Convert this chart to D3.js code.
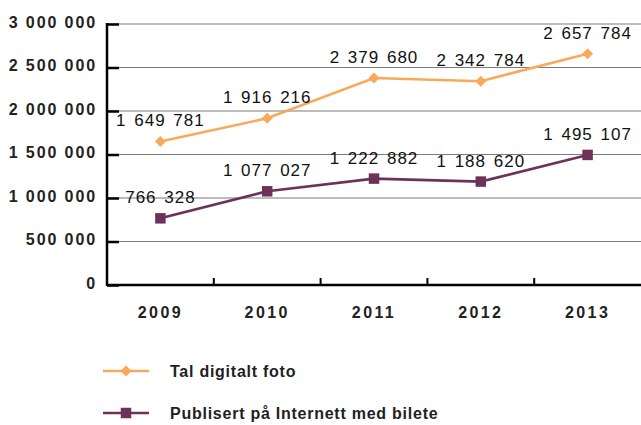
<!DOCTYPE html>
<html>
<head>
<meta charset="utf-8">
<script src="https://cdn.jsdelivr.net/npm/d3@7"></script>
<style>
  body { margin: 0; background: #fff; }
  svg text { font-family: "Liberation Sans", Arial, sans-serif; }
</style>
</head>
<body>
<svg id="chart"></svg>
<script>
// data
const years = ["2009", "2010", "2011", "2012", "2013"];
const digitalFoto = [1649781, 1916216, 2379680, 2342784, 2657784];
const publisert = [766328, 1077027, 1222882, 1188620, 1495107];
const seriesNames = ["Tal digitalt foto", "Publisert på Internett med bilete"];
const yTicks = [0, 500000, 1000000, 1500000, 2000000, 2500000, 3000000];

const width = 641, height = 425;
const margin = {top: 24, left: 107};
const zeroY = 285;
const orange = "#f9a95c", purple = "#6d3259";

const fmt = v => d3.format(",")(v).replace(/,/g, " ");

const svg = d3.select("#chart").attr("width", width).attr("height", height);

const x = d3.scaleBand().domain(years).range([margin.left, width]);
const y = d3.scaleLinear().domain([0, 3000000]).range([zeroY, margin.top]);

// gridlines
svg.append("g")
  .selectAll("line")
  .data(yTicks.filter(d => d > 0))
  .join("line")
    .attr("x1", margin.left).attr("x2", width)
    .attr("y1", d => y(d)).attr("y2", d => y(d))
    .style("stroke", "#7a7a7a").style("stroke-width", 1.2);

// y axis, ticks pointing inward
const yAxis = svg.append("g")
  .attr("transform", `translate(${margin.left},0)`)
  .call(d3.axisRight(y).tickValues(yTicks).tickSize(12).tickFormat(""));
yAxis.select(".domain").remove();
yAxis.selectAll("line").style("stroke", "#000").style("stroke-width", 2.5);
svg.append("line")
  .attr("x1", margin.left).attr("x2", margin.left)
  .attr("y1", y(3000000) - 1).attr("y2", y(0) + 1)
  .style("stroke", "#000").style("stroke-width", 2.5);

svg.append("g")
  .selectAll("text")
  .data(yTicks)
  .join("text")
    .attr("x", 97)
    .attr("y", d => y(d) + 3.5)
    .attr("text-anchor", "end")
    .style("font-size", "16px").style("font-weight", "bold")
    .style("letter-spacing", "1.9px")
    .style("fill", "#222")
    .text(fmt);

// x axis
svg.append("line")
  .attr("x1", margin.left).attr("x2", width)
  .attr("y1", y(0)).attr("y2", y(0))
  .style("stroke", "#000").style("stroke-width", 2.5);
svg.append("g")
  .selectAll("line")
  .data(years.slice(1))
  .join("line")
    .attr("x1", d => x(d)).attr("x2", d => x(d))
    .attr("y1", y(0)).attr("y2", y(0) - 7)
    .style("stroke", "#000").style("stroke-width", 2);
svg.append("g")
  .selectAll("text")
  .data(years)
  .join("text")
    .attr("x", d => x(d) + x.bandwidth() / 2)
    .attr("y", y(0) + 33)
    .attr("text-anchor", "middle")
    .style("font-size", "16px").style("font-weight", "bold")
    .style("letter-spacing", "2.4px")
    .style("fill", "#222")
    .text(d => d);

const cx = d => x(d) + x.bandwidth() / 2;
const line = d3.line().x((d, i) => cx(years[i])).y(d => y(d));

function marker(sel, color, diamond) {
  const sym = d3.symbol().type(d3.symbolSquare).size(diamond ? 60 : 110);
  sel.attr("d", sym).style("fill", color);
  return sel;
}

function drawSeries(values, color, diamond) {
  svg.append("path")
    .datum(values)
    .attr("d", line)
    .style("fill", "none").style("stroke", color).style("stroke-width", 2.6);
  svg.append("g")
    .selectAll("path")
    .data(values)
    .join("path")
      .call(marker, color, diamond)
      .attr("transform", (d, i) => `translate(${cx(years[i])},${y(d)})` + (diamond ? " rotate(45)" : ""));
  svg.append("g")
    .selectAll("text")
    .data(values)
    .join("text")
      .attr("x", (d, i) => cx(years[i]))
      .attr("y", d => y(d) - 15)
      .attr("text-anchor", "middle")
      .style("font-size", "17px")
      .style("letter-spacing", "1px").style("word-spacing", "2px")
      .style("fill", "#111")
      .text(fmt);
}

drawSeries(digitalFoto, orange, true);
drawSeries(publisert, purple, false);

// legend
const legend = svg.append("g").attr("transform", "translate(103,371)");
const items = [{name: seriesNames[0], color: orange, diamond: true},
               {name: seriesNames[1], color: purple, diamond: false}];
const li = legend.selectAll("g").data(items).join("g")
  .attr("transform", (d, i) => `translate(0,${i * 42})`);
li.append("line")
  .attr("x1", 0).attr("x2", 46).attr("y1", 0).attr("y2", 0)
  .style("stroke", d => d.color).style("stroke-width", 2.6);
li.append("path")
  .each(function (d) { marker(d3.select(this), d.color, d.diamond); })
  .attr("transform", d => "translate(23,0)" + (d.diamond ? " rotate(45)" : ""));
li.append("text")
  .attr("x", 67).attr("y", 6)
  .style("font-size", "16px").style("font-weight", "bold")
  .style("letter-spacing", "0.75px")
  .style("fill", "#222")
  .text(d => d.name);
</script>
</body>
</html>
